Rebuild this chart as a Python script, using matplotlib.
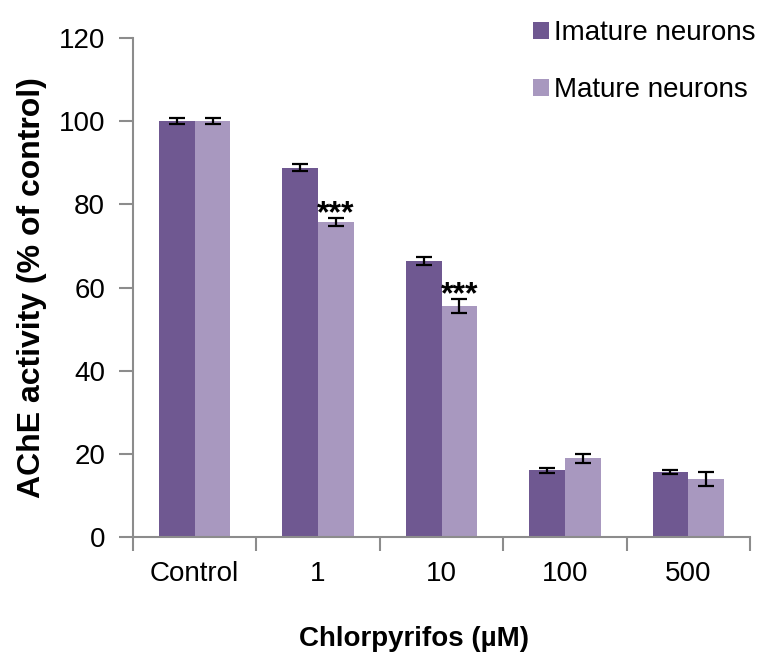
import matplotlib
matplotlib.use("Agg")
import matplotlib.pyplot as plt
import numpy as np

plt.rcParams['font.family'] = ['Liberation Sans', 'DejaVu Sans']

categories = ["Control", "1", "10", "100", "500"]
immature = [100.0, 88.8, 66.4, 16.0, 15.7]
immature_err = [0.8, 0.9, 1.0, 0.5, 0.5]
mature = [100.0, 75.7, 55.6, 18.9, 14.0]
mature_err = [0.8, 1.0, 1.7, 1.0, 1.7]
significance = ["", "***", "***", "", ""]
series_labels = ["Imature neurons", "Mature neurons"]
yticks = [0, 20, 40, 60, 80, 100, 120]

dark = "#6F5891"
light = "#A898BF"
axis_grey = "#8C8C8C"

fig = plt.figure(figsize=(7.71, 6.70), dpi=100)
ax = fig.add_axes([133/771, 1-537/670, (750-133)/771, (537-38)/670])

x = np.arange(len(categories))
w = 0.29
ek = dict(ecolor="black", elinewidth=1.6, capsize=6, capthick=1.6)
b1 = ax.bar(x - w/2, immature, w, color=dark, yerr=immature_err, error_kw=ek,
            label=series_labels[0])
b2 = ax.bar(x + w/2, mature, w, color=light, yerr=mature_err, error_kw=ek,
            label=series_labels[1])

for xi, v, e, s in zip(x, mature, mature_err, significance):
    if s:
        ax.text(xi + w/2, v + e + 0.9, s, ha="center", va="center",
                fontsize=23, fontweight="bold")

ax.set_xlim(-0.5, len(categories) - 0.5)
ax.set_ylim(0, 120)
ax.set_yticks(yticks)
ax.set_yticklabels([str(t) for t in yticks], fontsize=20)
ax.set_xticks(x)
ax.set_xticklabels(categories, fontsize=20)
ax.set_xticks(np.arange(len(categories) + 1) - 0.5, minor=True)
ax.tick_params(axis="x", which="major", length=0, pad=17)
ax.tick_params(axis="x", which="minor", length=10, width=1.5, color=axis_grey,
               direction="out")
ax.tick_params(axis="y", length=10, width=1.5, color=axis_grey, direction="out",
               pad=10)

for s in ["top", "right"]:
    ax.spines[s].set_visible(False)
for s in ["left", "bottom"]:
    ax.spines[s].set_color(axis_grey)
    ax.spines[s].set_linewidth(1.5)

ax.set_ylabel("AChE activity (% of control)", fontsize=23, fontweight="bold",
              labelpad=8.5)
ax.set_xlabel("Chlorpyrifos (µM)", fontsize=20, fontweight="bold", labelpad=20)
ax.xaxis.set_label_coords(0.455, -0.179)

leg = fig.legend(handles=[b1, b2], labels=series_labels, loc="upper left",
                 bbox_to_anchor=(508/771, 1 + 5/670), frameon=False,
                 fontsize=20, handlelength=0.58, handleheight=0.58,
                 handletextpad=0.18, labelspacing=1.13)

fig.savefig("out.png", dpi=100)
